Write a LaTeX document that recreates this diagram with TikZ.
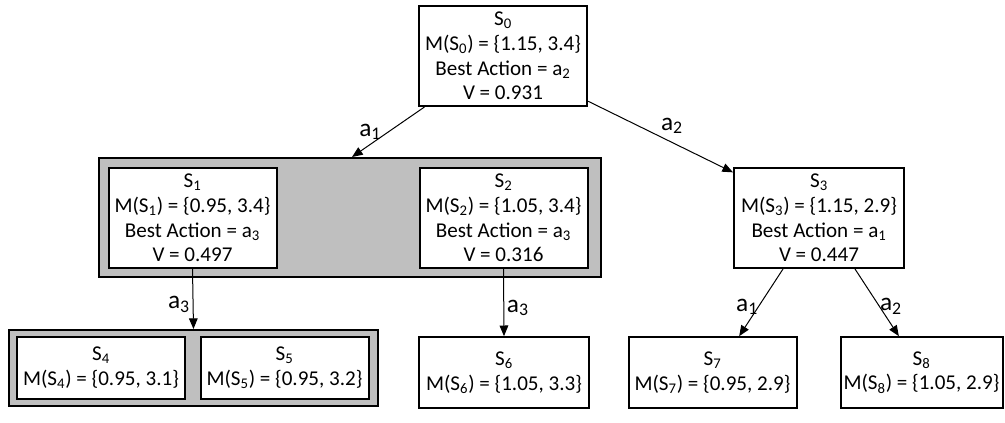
\documentclass[tikz,border=0pt]{standalone}
\usepackage{fontspec}
\setmainfont{Carlito}
\usetikzlibrary{arrows.meta}
\newcommand{\sub}[1]{\textsubscript{#1}}

\begin{document}
\begin{tikzpicture}[x=0.75pt,y=-0.75pt,
    font=\fontsize{15.8}{18.6}\selectfont,
    state/.style={draw,line width=1.5pt,fill=white,align=center,inner sep=0pt,minimum width=126pt},
    bigstate/.style={state,minimum height=75pt},
    leaf/.style={state,minimum height=53pt},
    grpleaf/.style={state,minimum height=46.5pt},
    group/.style={draw,line width=1.5pt,fill=black!25,inner sep=0pt},
    act/.style={-{Triangle[length=8pt,width=6.5pt]},line width=0.75pt},
    lbl/.style={font=\fontsize{19}{20}\selectfont,inner sep=2pt}]
  \useasboundingbox (0,0) rectangle (1005,422);
  % groups of merged states
  \node[group,minimum width=376.5pt,minimum height=89.25pt] (grp1) at (350,217.5) {};
  \node[group,minimum width=276.75pt,minimum height=57pt] (grp2) at (193.5,368) {};
  % states
  \node[bigstate] (s0) at (503,56) {S\sub{0}\\M(S\sub{0}) = \{1.15, 3.4\}\\Best Action = a\sub{2}\\V = 0.931};
  \node[bigstate] (s1) at (192.5,218) {S\sub{1}\\M(S\sub{1}) = \{0.95, 3.4\}\\Best Action = a\sub{3}\\V = 0.497};
  \node[bigstate] (s2) at (503.5,218) {S\sub{2}\\M(S\sub{2}) = \{1.05, 3.4\}\\Best Action = a\sub{3}\\V = 0.316};
  \node[bigstate,minimum width=127.5pt] (s3) at (819,218) {S\sub{3}\\M(S\sub{3}) = \{1.15, 2.9\}\\Best Action = a\sub{1}\\V = 0.447};
  \node[grpleaf] (s4) at (101,368) {S\sub{4}\\M(S\sub{4}) = \{0.95, 3.1\}};
  \node[grpleaf] (s5) at (284.5,368) {S\sub{5}\\M(S\sub{5}) = \{0.95, 3.2\}};
  \node[leaf,minimum width=127.5pt] (s6) at (504,372.5) {S\sub{6}\\M(S\sub{6}) = \{1.05, 3.3\}};
  \node[leaf] (s7) at (712.5,372.5) {S\sub{7}\\M(S\sub{7}) = \{0.95, 2.9\}};
  \node[leaf,minimum width=121.5pt] (s8) at (921.5,372.5) {S\sub{8}\\M(S\sub{8}) = \{1.05, 2.9\}};
  % actions
  \draw[act] (s0.213) -- node[lbl,left=3pt] {a\sub{1}} ([xshift=1.5pt]grp1.north);
  \draw[act] (s0.332) -- node[lbl,above right,xshift=-2pt] {a\sub{2}} ([yshift=-4pt]s3.north west);
  \draw[act] (s1.south) -- node[lbl,left,yshift=-4pt] {a\sub{3}} (grp2.north);
  \draw[act] (s2.south) -- node[lbl,right,yshift=-4pt] {a\sub{3}} (s6.north);
  \draw[act] ([xshift=-27pt]s3.south) -- node[lbl,left,yshift=-3pt] {a\sub{1}} ([xshift=20pt]s7.north);
  \draw[act] ([xshift=27pt]s3.south) -- node[lbl,right,yshift=-3pt] {a\sub{2}} ([xshift=-17pt]s8.north);
\end{tikzpicture}
\end{document}
